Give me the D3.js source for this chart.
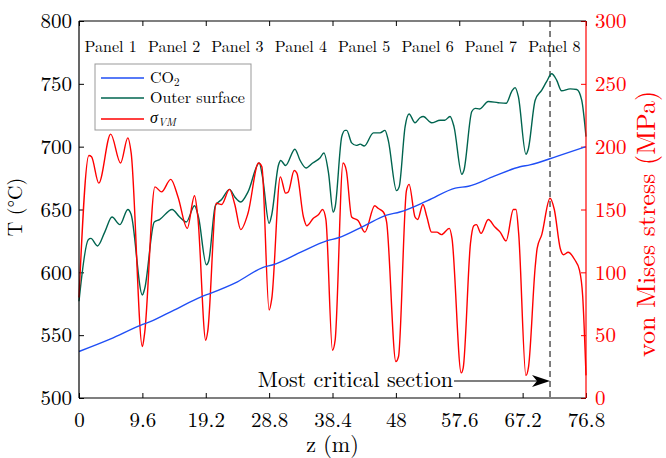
<!DOCTYPE html>
<html>
<head>
<meta charset="utf-8">
<script src="https://cdn.jsdelivr.net/npm/d3@7"></script>
<style>
  body { margin: 0; background: #fff; }
</style>
</head>
<body>
<svg id="chart" width="666" height="458"></svg>
<script>
// data
const panels = ["Panel 1", "Panel 2", "Panel 3", "Panel 4", "Panel 5", "Panel 6", "Panel 7", "Panel 8"];
const xTicks = [0, 9.6, 19.2, 28.8, 38.4, 48, 57.6, 67.2, 76.8];
const tTicks = [500, 550, 600, 650, 700, 750, 800];
const sTicks = [0, 50, 100, 150, 200, 250, 300];
const criticalZ = 71.35;

const zCO2 = [0, 4.8, 9.4, 10.7, 14.4, 18.5, 20.0, 24.0, 27.9, 29.4, 33.6, 37.5, 39.3, 43.2, 46.6, 48.6, 52.8, 57.0, 59.0, 62.9, 66.8, 68.3, 72.5, 76.8];
const tCO2 = [537, 547, 558, 560.5, 570, 580.5, 583.5, 592.5, 604, 606, 616, 625, 627.5, 637, 645.5, 648, 657, 667, 668.5, 676.5, 684, 685.5, 692.5, 700];

const zOuter = [0, 1.4, 1.8, 2.8, 3.9, 5.0, 6.2, 7.4, 7.9, 9.6, 9.95, 11.4, 12.2, 14.1, 15.25, 16.25, 17.5, 18.1, 19.3, 19.65,
  20.65, 21.6, 22.8, 23.6, 24.5, 25.6, 27.3, 27.8, 28.8, 29.2, 30.2, 30.55, 31.3, 32.7, 33.5, 34.4, 35.4, 36.5, 37.1, 37.8,
  38.5, 38.8, 39.8, 40.3, 40.55, 41.3, 42.0, 42.6, 43.2, 44.6, 45.6, 46.35, 46.85, 48.1, 48.5, 49.4, 50.0, 50.9, 51.65, 52.15,
  53.4, 54.7, 55.4, 56.2, 56.8, 58.0, 58.3, 59.5, 60.0, 60.7, 62.0, 63.5, 64.7, 65.55, 66.05, 66.55, 67.7, 68.05, 69.1, 70.1,
  70.85, 71.6, 72.35, 73.1, 74.4, 75.4, 76.15, 76.8];
const tOuter = [577, 626, 627, 621, 632, 644, 638, 650, 646, 582, 587, 640, 642, 650, 644, 640, 653, 644, 606, 609,
  653, 658, 666, 660, 656, 664, 687, 676, 639, 646, 685, 689, 685, 698, 689, 683, 687, 691, 695, 679,
  648, 652, 708, 713, 713, 703, 701, 702, 700.5, 711, 711, 713, 705, 665, 668, 716, 726, 719, 723, 724,
  719, 721, 721, 724, 716, 678, 681, 728, 730.5, 730, 736, 735, 734.5, 744, 747, 740, 694, 698, 737, 745,
  752, 758, 753, 744.5, 746, 745.5, 737, 708];

const zStress = [0, 1.5, 1.9, 3.0, 4.8, 6.3, 7.4, 7.9, 9.6, 9.95, 11.5, 12.5, 13.9, 15.0, 16.4, 17.5, 18.0, 19.2, 19.5, 20.8,
  21.6, 22.8, 23.6, 24.5, 25.6, 27.2, 27.7, 28.8, 29.2, 30.5, 31.3, 31.7, 32.6, 33.0, 34.0, 34.5, 35.5, 36.3, 36.9, 37.4,
  38.4, 38.8, 40.0, 40.5, 41.3, 42.3, 43.3, 44.8, 45.3, 46.1, 46.6, 48.0, 48.4, 49.6, 50.0, 50.9, 51.3, 52.1, 52.7, 53.4,
  54.2, 54.9, 56.1, 56.5, 57.9, 58.2, 59.3, 59.8, 60.2, 60.9, 62.0, 63.0, 63.8, 64.7, 65.8, 66.2, 66.6, 67.7, 68.1, 69.1,
  69.4, 70.1, 71.35, 72.0, 72.9, 73.4, 74.1, 75.1, 75.8, 76.3, 76.8];
const sStress = [80, 193, 192, 171, 210, 187, 207, 195, 41, 52, 168, 164, 174, 160, 135, 161, 144, 46, 53, 155,
  154, 166, 154, 134, 147, 187, 184, 70, 79, 176, 163, 164, 181, 179, 144, 137, 143, 146, 150, 142,
  38, 46, 187, 181, 144, 141, 132, 153, 151, 148, 140, 29, 33, 165, 170, 144, 142, 154, 144, 132,
  132, 130, 135, 127, 20, 24, 123, 137, 138, 131, 142, 136, 132, 125, 150, 150, 131, 18, 25, 104,
  119, 130, 159, 150, 119, 114, 116, 110, 102, 81, 18];

const blue = "#1f4ef5", green = "#00644f", red = "#ff0000";
const FONT = '"Latin Modern Roman", "Liberation Serif", serif';

const svg = d3.select("#chart");
const margin = {top: 21, right: 80, bottom: 60, left: 79};
const W = 666 - margin.left - margin.right;
const H = 458 - margin.top - margin.bottom;
const g = svg.append("g").attr("transform", `translate(${margin.left},${margin.top})`);

const x = d3.scaleLinear().domain([0, 76.8]).range([0, W]);
const yT = d3.scaleLinear().domain([500, 800]).range([H, 0]);
const yS = d3.scaleLinear().domain([0, 300]).range([H, 0]);

// axes, ticks pointing inward
const axBottom = g.append("g").attr("transform", `translate(0,${H})`)
  .call(d3.axisBottom(x).tickValues(xTicks).tickSizeInner(-5).tickSizeOuter(0).tickPadding(14)
    .tickFormat(d => d3.format("")(d)));
const axTop = g.append("g")
  .call(d3.axisTop(x).tickValues(xTicks).tickSizeInner(-5).tickSizeOuter(0).tickFormat(""));
const axLeft = g.append("g")
  .call(d3.axisLeft(yT).tickValues(tTicks).tickSizeInner(-5).tickSizeOuter(0).tickPadding(7));
const axRight = g.append("g").attr("transform", `translate(${W},0)`)
  .call(d3.axisRight(yS).tickValues(sTicks).tickSizeInner(-5).tickSizeOuter(0).tickPadding(9));

[axBottom, axTop, axLeft, axRight].forEach(a => {
  a.attr("font-family", null).attr("font-size", null);
  a.select(".domain").remove();
  a.selectAll("text").style("font-family", FONT).style("font-size", "21px").attr("fill", "#000");
  a.selectAll("line").attr("stroke", "#000");
});
axRight.selectAll("text").attr("fill", red);
axRight.selectAll("line").attr("stroke", red);

// dashed critical section line
g.append("line")
  .attr("x1", x(criticalZ)).attr("x2", x(criticalZ)).attr("y1", 0).attr("y2", H)
  .attr("stroke", "#555").attr("stroke-width", 1.5).attr("stroke-dasharray", "6,4");

// curves
const lineT = d3.line().x(d => x(d[0])).y(d => yT(d[1])).curve(d3.curveMonotoneX);
const lineS = d3.line().x(d => x(d[0])).y(d => yS(d[1])).curve(d3.curveMonotoneX);

g.append("path").datum(d3.zip(zOuter, tOuter)).attr("d", lineT)
  .attr("fill", "none").attr("stroke", green).attr("stroke-width", 1.4);
g.append("path").datum(d3.zip(zStress, sStress)).attr("d", lineS)
  .attr("fill", "none").attr("stroke", red).attr("stroke-width", 1.4);
g.append("path").datum(d3.zip(zCO2, tCO2)).attr("d", lineT)
  .attr("fill", "none").attr("stroke", blue).attr("stroke-width", 1.4);

// frame
g.append("line").attr("x1", 0).attr("x2", W).attr("y1", 0).attr("y2", 0).attr("stroke", "#000").attr("stroke-width", 1.2);
g.append("line").attr("x1", 0).attr("x2", W).attr("y1", H).attr("y2", H).attr("stroke", "#000").attr("stroke-width", 1.2);
g.append("line").attr("x1", 0).attr("x2", 0).attr("y1", 0).attr("y2", H).attr("stroke", "#000").attr("stroke-width", 1.2);
g.append("line").attr("x1", W).attr("x2", W).attr("y1", 0).attr("y2", H).attr("stroke", red).attr("stroke-width", 1.2);

// panel labels
g.selectAll(".panel").data(panels).enter().append("text")
  .attr("class", "panel")
  .attr("x", (d, i) => x(4.8 + 9.6 * i))
  .attr("y", 31)
  .attr("text-anchor", "middle")
  .style("font-family", FONT).style("font-size", "16px")
  .text(d => d);

// annotation
const ax = x(criticalZ), ay = H - 17;
g.append("line").attr("x1", ax - 96).attr("x2", ax - 12).attr("y1", ay).attr("y2", ay)
  .attr("stroke", "#000").attr("stroke-width", 1.2);
g.append("path")
  .attr("d", `M${ax},${ay} L${ax - 18},${ay - 6} L${ax - 13},${ay} L${ax - 18},${ay + 6} Z`)
  .attr("fill", "#000");
g.append("text").attr("x", ax - 97).attr("y", ay + 6)
  .attr("text-anchor", "end")
  .style("font-family", FONT).style("font-size", "22px")
  .text("Most critical section");

// axis titles
svg.append("text").attr("x", margin.left + W / 2).attr("y", 452)
  .attr("text-anchor", "middle")
  .style("font-family", FONT).style("font-size", "22px").text("z (m)");
svg.append("text").attr("transform", "translate(22,207) rotate(-90)")
  .attr("text-anchor", "middle")
  .style("font-family", FONT).style("font-size", "20px").text("T (°C)");
svg.append("text").attr("transform", "translate(655,224) rotate(-90)")
  .attr("text-anchor", "middle").attr("fill", red)
  .style("font-family", FONT).style("font-size", "26px").text("von Mises stress (MPa)");

// legend
const lg = svg.append("g").attr("transform", "translate(95,64)");
lg.append("rect").attr("width", 156).attr("height", 66)
  .attr("fill", "#fff").attr("stroke", "#999").attr("stroke-width", 1);
const items = [
  {c: blue, y: 14},
  {c: green, y: 34},
  {c: red, y: 55}
];
lg.selectAll(".li").data(items).enter().append("line")
  .attr("x1", 6).attr("x2", 49).attr("y1", d => d.y).attr("y2", d => d.y)
  .attr("stroke", d => d.c).attr("stroke-width", 1.6);
const t1 = lg.append("text").attr("x", 55).attr("y", 19).style("font-family", FONT).style("font-size", "16px");
t1.append("tspan").text("CO");
t1.append("tspan").style("font-size", "11px").attr("dy", 3).text("2");
lg.append("text").attr("x", 55).attr("y", 39).style("font-family", FONT).style("font-size", "16px").text("Outer surface");
const t3 = lg.append("text").attr("x", 55).attr("y", 59).style("font-family", FONT).style("font-size", "16px").style("font-style", "italic");
t3.append("tspan").text("σ");
t3.append("tspan").style("font-size", "11px").attr("dy", 3).text("VM");
</script>
</body>
</html>
